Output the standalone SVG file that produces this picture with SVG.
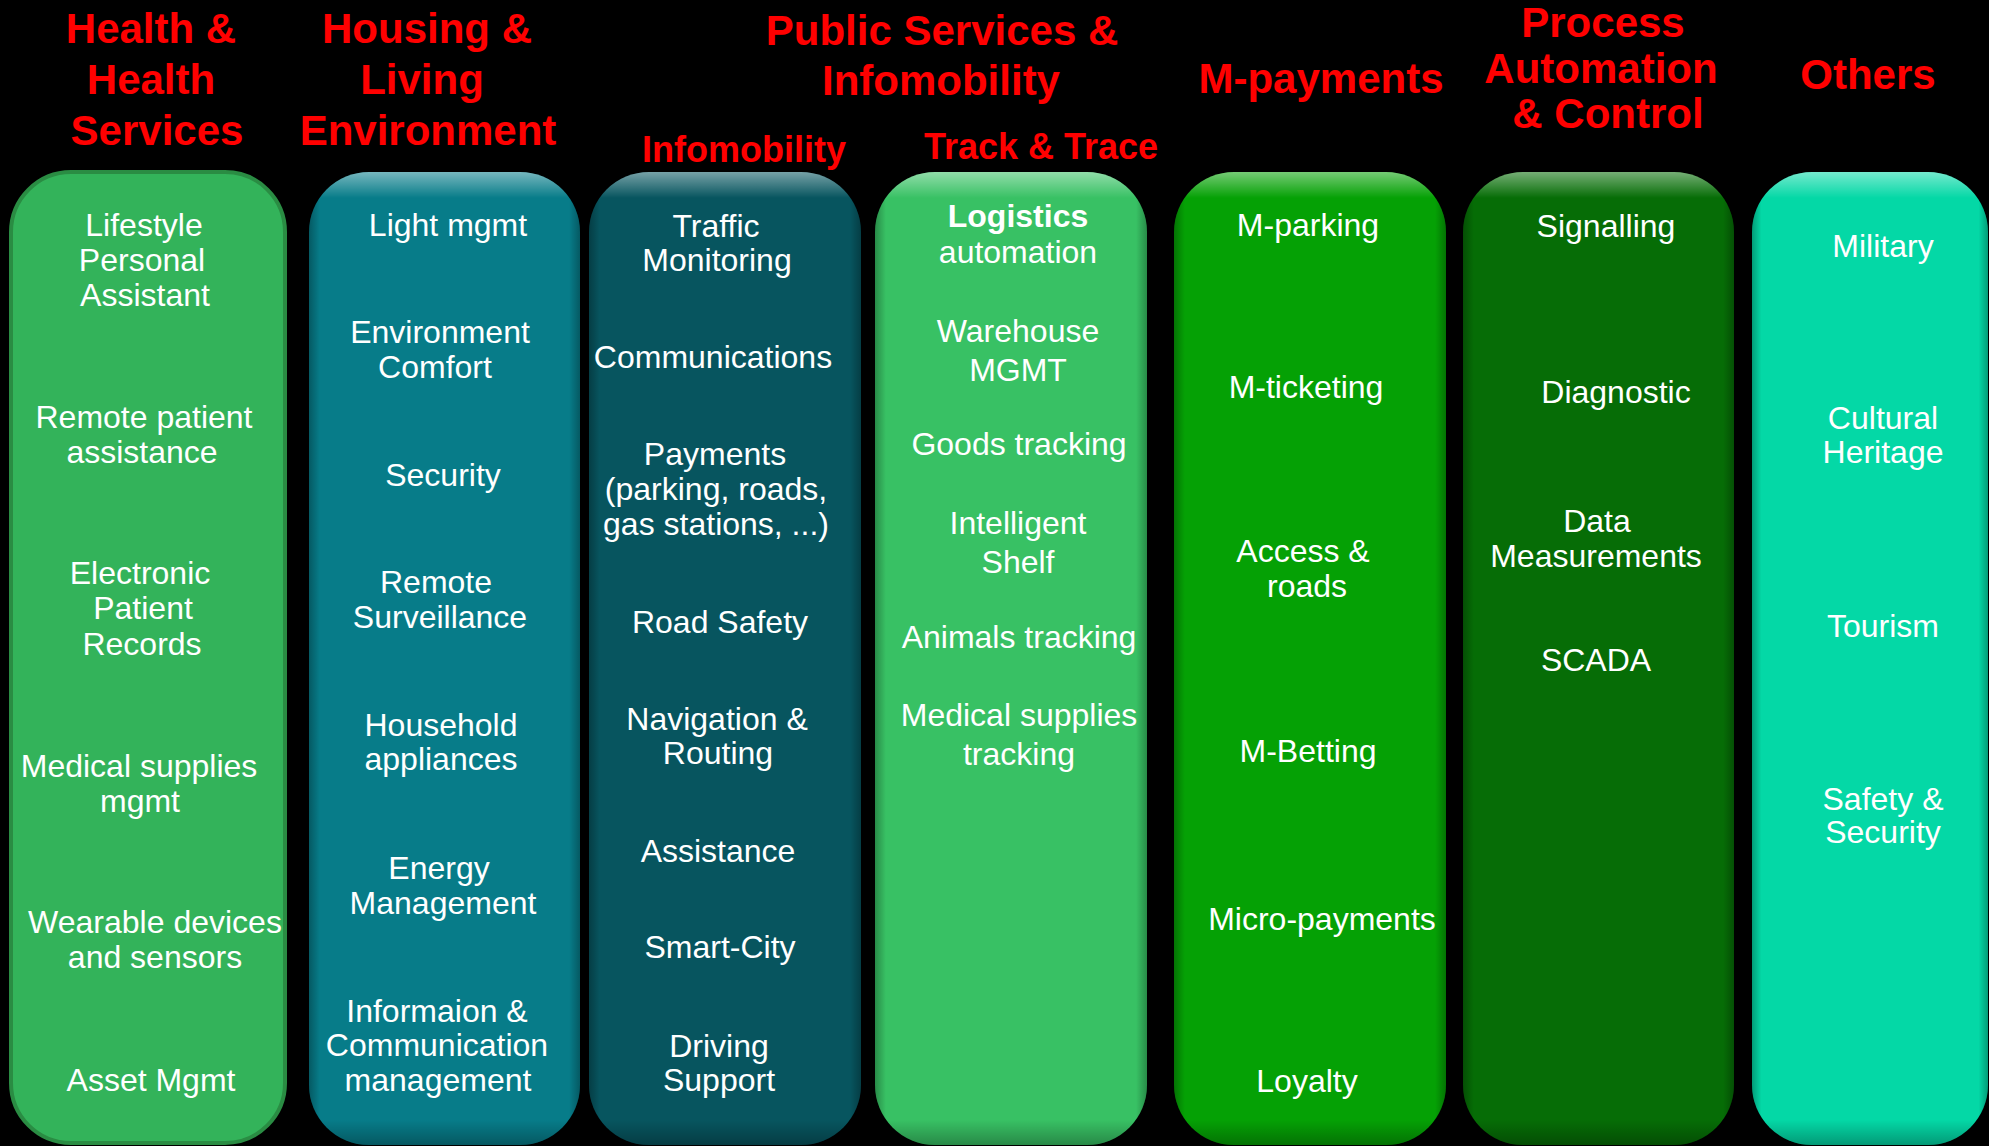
<svg xmlns="http://www.w3.org/2000/svg" width="1989" height="1146" viewBox="0 0 1989 1146">
<defs>
<style>
.hd{font-family:"Liberation Sans",Arial,sans-serif;font-weight:bold;font-size:42px;fill:#ff0000;text-anchor:middle}
.sh{font-family:"Liberation Sans",Arial,sans-serif;font-weight:bold;font-size:36px;fill:#ff0000;text-anchor:middle}
.t{font-family:"Liberation Sans",Arial,sans-serif;font-size:32px;fill:#ffffff;text-anchor:middle}
.b{font-weight:bold}
.hi{fill:url(#topHi)}
.sd{fill:url(#sideSh)}
.bt{fill:url(#botSh)}
</style>
<linearGradient id="topHi" gradientUnits="userSpaceOnUse" x1="0" y1="172" x2="0" y2="198">
<stop offset="0" stop-color="#ffffff" stop-opacity="0.45"/>
<stop offset="1" stop-color="#ffffff" stop-opacity="0"/>
</linearGradient>
<linearGradient id="sideSh" x1="0" y1="0" x2="1" y2="0">
<stop offset="0" stop-color="#000000" stop-opacity="0.28"/>
<stop offset="0.04" stop-color="#000000" stop-opacity="0"/>
<stop offset="0.96" stop-color="#000000" stop-opacity="0"/>
<stop offset="1" stop-color="#000000" stop-opacity="0.28"/>
</linearGradient>
<linearGradient id="botSh" gradientUnits="userSpaceOnUse" x1="0" y1="1120" x2="0" y2="1146">
<stop offset="0" stop-color="#000000" stop-opacity="0"/>
<stop offset="1" stop-color="#000000" stop-opacity="0.3"/>
</linearGradient>
</defs>
<rect x="0" y="0" width="1989" height="1146" fill="#000000"/>

<g id="headers">
<text class="hd"><tspan x="151" y="43">Health &amp;</tspan><tspan x="151" y="94">Health</tspan><tspan x="157" y="145">Services</tspan></text>
<text class="hd"><tspan x="427" y="43">Housing &amp;</tspan><tspan x="422" y="94">Living</tspan><tspan x="428" y="145">Environment</tspan></text>
<text class="hd"><tspan x="942" y="45">Public Services &amp;</tspan><tspan x="941" y="95">Infomobility</tspan></text>
<text class="sh" x="744" y="162">Infomobility</text>
<text class="sh" x="1041" y="159">Track &amp; Trace</text>
<text class="hd" x="1321" y="93">M-payments</text>
<text class="hd"><tspan x="1603" y="37">Process</tspan><tspan x="1601" y="83">Automation</tspan><tspan x="1608" y="128">&amp; Control</tspan></text>
<text class="hd" x="1868" y="89">Others</text>
</g>

<g id="col-health">
<rect x="11" y="172" width="274" height="971" rx="60" fill="#33b35a" stroke="#2a8c43" stroke-width="4"/>
<text class="t"><tspan x="144" y="236">Lifestyle</tspan><tspan x="142" y="271">Personal</tspan><tspan x="145" y="306">Assistant</tspan></text>
<text class="t"><tspan x="144" y="428">Remote patient</tspan><tspan x="142" y="463">assistance</tspan></text>
<text class="t"><tspan x="140" y="584">Electronic</tspan><tspan x="143" y="619">Patient</tspan><tspan x="142" y="655">Records</tspan></text>
<text class="t"><tspan x="139" y="777">Medical supplies</tspan><tspan x="140" y="812">mgmt</tspan></text>
<text class="t"><tspan x="155" y="933">Wearable devices</tspan><tspan x="155" y="968">and sensors</tspan></text>
<text class="t" x="151" y="1091">Asset Mgmt</text>
</g>

<g id="col-housing">
<rect x="309" y="172" width="271" height="973" rx="60" fill="#077c89"/>
<rect x="309" y="172" width="271" height="973" rx="60" class="sd"/>
<rect x="309" y="172" width="271" height="973" rx="60" class="hi"/>
<rect x="309" y="172" width="271" height="973" rx="60" class="bt"/>
<text class="t" x="448" y="236">Light mgmt</text>
<text class="t"><tspan x="440" y="343">Environment</tspan><tspan x="435" y="378">Comfort</tspan></text>
<text class="t" x="443" y="486">Security</text>
<text class="t"><tspan x="436" y="593">Remote</tspan><tspan x="440" y="628">Surveillance</tspan></text>
<text class="t"><tspan x="441" y="736">Household</tspan><tspan x="441" y="770">appliances</tspan></text>
<text class="t"><tspan x="439" y="879">Energy</tspan><tspan x="443" y="914">Management</tspan></text>
<text class="t"><tspan x="437" y="1022">Informaion &amp;</tspan><tspan x="437" y="1056">Communication</tspan><tspan x="438" y="1091">management</tspan></text>
</g>

<g id="col-infomobility">
<rect x="589" y="172" width="272" height="973" rx="60" fill="#07555f"/>
<rect x="589" y="172" width="272" height="973" rx="60" class="sd"/>
<rect x="589" y="172" width="272" height="973" rx="60" class="hi"/>
<rect x="589" y="172" width="272" height="973" rx="60" class="bt"/>
<text class="t"><tspan x="716" y="237">Traffic</tspan><tspan x="717" y="271">Monitoring</tspan></text>
<text class="t" x="713" y="368">Communications</text>
<text class="t"><tspan x="715" y="465">Payments</tspan><tspan x="716" y="500">(parking, roads,</tspan><tspan x="716" y="535">gas stations, ...)</tspan></text>
<text class="t" x="720" y="633">Road Safety</text>
<text class="t"><tspan x="717" y="730">Navigation &amp;</tspan><tspan x="718" y="764">Routing</tspan></text>
<text class="t" x="718" y="862">Assistance</text>
<text class="t" x="720" y="958">Smart-City</text>
<text class="t"><tspan x="719" y="1057">Driving</tspan><tspan x="719" y="1091">Support</tspan></text>
</g>

<g id="col-tracktrace">
<rect x="875" y="172" width="272" height="973" rx="60" fill="#38c164"/>
<rect x="875" y="172" width="272" height="973" rx="60" class="sd"/>
<rect x="875" y="172" width="272" height="973" rx="60" class="hi"/>
<rect x="875" y="172" width="272" height="973" rx="60" class="bt"/>
<text class="t"><tspan class="b" x="1018" y="227">Logistics</tspan><tspan x="1018" y="263">automation</tspan></text>
<text class="t"><tspan x="1018" y="342">Warehouse</tspan><tspan x="1018" y="381">MGMT</tspan></text>
<text class="t" x="1019" y="455">Goods tracking</text>
<text class="t"><tspan x="1018" y="534">Intelligent</tspan><tspan x="1018" y="573">Shelf</tspan></text>
<text class="t" x="1019" y="648">Animals tracking</text>
<text class="t"><tspan x="1019" y="726">Medical supplies</tspan><tspan x="1019" y="765">tracking</tspan></text>
</g>

<g id="col-mpayments">
<rect x="1174" y="172" width="272" height="973" rx="60" fill="#05a105"/>
<rect x="1174" y="172" width="272" height="973" rx="60" class="sd"/>
<rect x="1174" y="172" width="272" height="973" rx="60" class="hi"/>
<rect x="1174" y="172" width="272" height="973" rx="60" class="bt"/>
<text class="t" x="1308" y="236">M-parking</text>
<text class="t" x="1306" y="398">M-ticketing</text>
<text class="t"><tspan x="1303" y="562">Access &amp;</tspan><tspan x="1307" y="597">roads</tspan></text>
<text class="t" x="1308" y="762">M-Betting</text>
<text class="t" x="1322" y="930">Micro-payments</text>
<text class="t" x="1307" y="1092">Loyalty</text>
</g>

<g id="col-process">
<rect x="1463" y="172" width="271" height="973" rx="60" fill="#066d06"/>
<rect x="1463" y="172" width="271" height="973" rx="60" class="sd"/>
<rect x="1463" y="172" width="271" height="973" rx="60" class="hi"/>
<rect x="1463" y="172" width="271" height="973" rx="60" class="bt"/>
<text class="t" x="1606" y="237">Signalling</text>
<text class="t" x="1616" y="403">Diagnostic</text>
<text class="t"><tspan x="1597" y="532">Data</tspan><tspan x="1596" y="567">Measurements</tspan></text>
<text class="t" x="1596" y="671">SCADA</text>
</g>

<g id="col-others">
<rect x="1752" y="172" width="236" height="973" rx="60" fill="#04d8a6"/>
<rect x="1752" y="172" width="236" height="973" rx="60" class="sd"/>
<rect x="1752" y="172" width="236" height="973" rx="60" class="hi"/>
<rect x="1752" y="172" width="236" height="973" rx="60" class="bt"/>
<text class="t" x="1883" y="257">Military</text>
<text class="t"><tspan x="1883" y="429">Cultural</tspan><tspan x="1883" y="463">Heritage</tspan></text>
<text class="t" x="1883" y="637">Tourism</text>
<text class="t"><tspan x="1883" y="810">Safety &amp;</tspan><tspan x="1883" y="843">Security</tspan></text>
</g>

<g id="connectors"/>
</svg>
